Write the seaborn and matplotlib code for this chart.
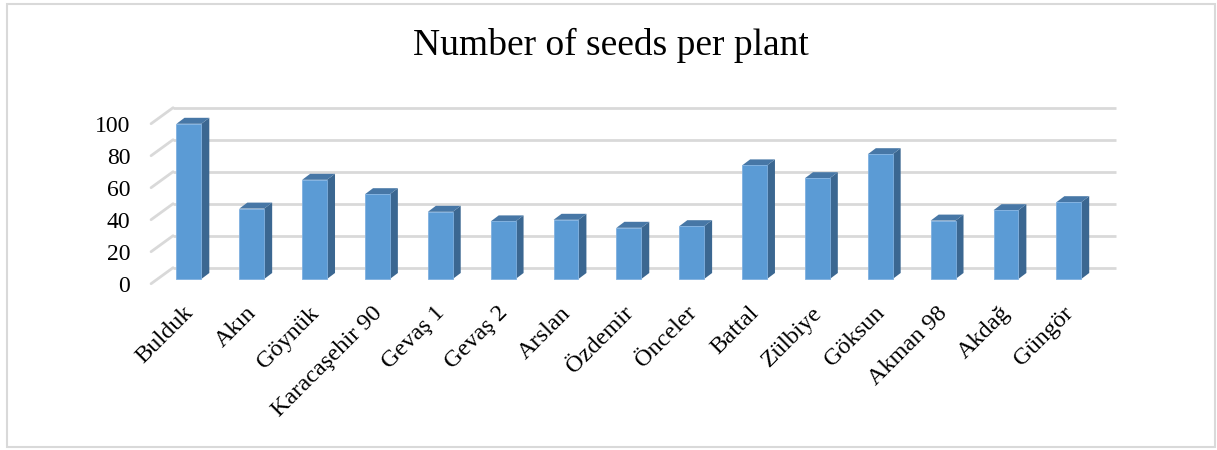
import numpy as np
import pandas as pd
import seaborn as sns
import matplotlib.pyplot as plt
from matplotlib.patches import Polygon, Rectangle
from matplotlib.transforms import ScaledTranslation

# data
varieties = ["Bulduk", "Akın", "Göynük", "Karacaşehir 90", "Gevaş 1", "Gevaş 2",
             "Arslan", "Özdemir", "Önceler", "Battal", "Zülbiye", "Göksun",
             "Akman 98", "Akdağ", "Güngör"]
seeds = [97, 44, 62, 53, 42, 36, 37, 32, 33, 71, 63, 78, 36.5, 43, 48]
yticks = [0, 20, 40, 60, 80, 100]

df = pd.DataFrame({"Variety": varieties, "Seeds": seeds})

sns.set_theme(style="white")
plt.rcParams['font.family'] = ['Liberation Serif', 'DejaVu Serif']

W, H = 1217, 450
fig = plt.figure(figsize=(W / 100, H / 100), dpi=100)

# axes box in pixels (from top-left) and pixel scale of the data
L, R, T, B = 140, 1130, 100, 290
x0_px, step_px = 188.9, 62.85     # centre of first bar, spacing
base_px, unit_px = 279, 1.6       # bar bottom, pixels per seed
ax = fig.add_axes([L / W, 1 - B / H, (R - L) / W, (B - T) / H])

def px(dx, dy):
    return dx / step_px, dy / unit_px

bar_dx, bar_dy = px(8, 6)       # depth of a bar
wall_dx, wall_dy = px(15.6, 11.3)  # back wall behind bar plane
front_dx, front_dy = px(-6.4, -4.7)  # front edge of side wall

grid_col = "#D9D9D9"
n = len(varieties)

sns.barplot(data=df, x="Variety", y="Seeds", color="#5B9BD5", saturation=1,
            width=0.395, edgecolor="#7FB0E0", linewidth=0.6, ax=ax, zorder=2)

for v in yticks:
    ax.plot([-0.5 + wall_dx, n - 0.5 + wall_dx], [v + wall_dy, v + wall_dy],
            color=grid_col, lw=2, zorder=0, solid_capstyle="butt")
    ax.plot([-0.5 + front_dx, -0.5 + wall_dx], [v + front_dy, v + wall_dy],
            color=grid_col, lw=2, zorder=0)

for p in list(ax.patches):
    x, w, h = p.get_x(), p.get_width(), p.get_height()
    side = [(x + w, 0), (x + w + bar_dx, bar_dy), (x + w + bar_dx, h + bar_dy), (x + w, h)]
    top = [(x, h), (x + bar_dx, h + bar_dy), (x + w + bar_dx, h + bar_dy), (x + w, h)]
    ax.add_patch(Polygon(side, closed=True, facecolor="#3B6791", edgecolor="none", zorder=1.9))
    ax.add_patch(Polygon(top, closed=True, facecolor="#4777A6", edgecolor="none", zorder=1.9))

ax.set_xlim((L - x0_px) / step_px, (R - x0_px) / step_px)
ax.set_ylim((base_px - B) / unit_px, (base_px - T) / unit_px)

ax.set_xlabel("")
ax.set_ylabel("")
ax.set_yticks(yticks)
ax.set_yticklabels([str(v) for v in yticks], fontsize=17, color="#000000")
ax.tick_params(axis="y", length=0, pad=7)
shift_y = ScaledTranslation(0, -0.047, fig.dpi_scale_trans)
for lab in ax.get_yticklabels():
    lab.set_transform(lab.get_transform() + shift_y)

ax.set_xticks(range(n))
ax.set_xticklabels(varieties, rotation=45, ha="right", rotation_mode="anchor",
                   fontsize=17.5, color="#000000")
ax.tick_params(axis="x", length=0, pad=9)
shift_x = ScaledTranslation(-0.06, 0, fig.dpi_scale_trans)
for lab in ax.get_xticklabels():
    lab.set_transform(lab.get_transform() + shift_x)

for s in ax.spines.values():
    s.set_visible(False)
ax.patch.set_alpha(0)

fig.text(611 / W, 1 - 45 / H, "Number of seeds per plant", ha="center", va="center",
         fontsize=27, color="#000000")

fig.patches.append(Rectangle((7 / W, 1 - 447 / H), 1208 / W, 443 / H, transform=fig.transFigure,
                             fill=False, edgecolor=grid_col, lw=1.5))

fig.savefig("out.png", dpi=100)
